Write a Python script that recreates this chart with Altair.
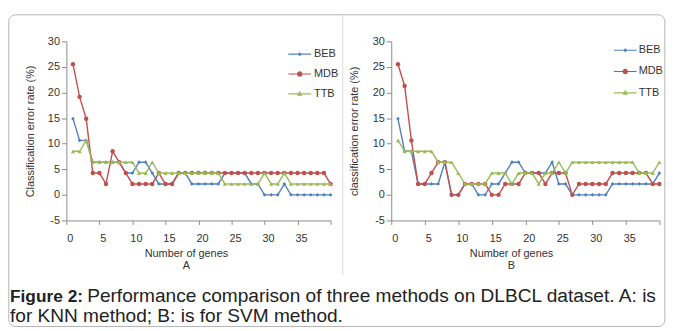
import altair as alt
import pandas as pd

genes = list(range(1, 41))
series_names = ["BEB", "MDB", "TTB"]
series_colors = ["#4F81BD", "#C0504D", "#9BBB59"]
marker_shapes = ["diamond", "circle", "triangle-up"]
marker_sizes = [14, 20, 18]
x_ticks = [0, 5, 10, 15, 20, 25, 30, 35, 40]
y_ticks = [-5, 0, 5, 10, 15, 20, 25, 30]

# Panel A (KNN)
knn_beb = [14.89, 10.64, 10.64, 6.38, 6.38, 6.38, 6.38, 6.38, 4.26, 4.26,
           6.38, 6.38, 4.26, 2.13, 2.13, 2.13, 4.26, 4.26, 2.13, 2.13,
           2.13, 2.13, 2.13, 4.26, 4.26, 4.26, 4.26, 2.13, 2.13, 0,
           0, 0, 2.13, 0, 0, 0, 0, 0, 0, 0]
knn_mdb = [25.53, 19.15, 14.89, 4.26, 4.26, 2.13, 8.51, 6.38, 4.26, 2.13,
           2.13, 2.13, 2.13, 4.26, 2.13, 2.13, 4.26, 4.26, 4.26, 4.26,
           4.26, 4.26, 4.26, 4.26, 4.26, 4.26, 4.26, 4.26, 4.26, 4.26,
           4.26, 4.26, 4.26, 4.26, 4.26, 4.26, 4.26, 4.26, 4.26, 2.13]
knn_ttb = [8.51, 8.51, 10.64, 6.38, 6.38, 6.38, 6.38, 6.38, 6.38, 6.38,
           4.26, 4.26, 6.38, 4.26, 4.26, 4.26, 4.26, 4.26, 4.26, 4.26,
           4.26, 4.26, 4.26, 2.13, 2.13, 2.13, 2.13, 2.13, 2.13, 4.26,
           2.13, 2.13, 4.26, 2.13, 2.13, 2.13, 2.13, 2.13, 2.13, 2.13]

# Panel B (SVM)
svm_beb = [14.89, 8.51, 8.51, 2.13, 2.13, 2.13, 2.13, 6.38, 0, 0,
           2.13, 2.13, 0, 0, 2.13, 2.13, 4.26, 6.38, 6.38, 4.26,
           4.26, 4.26, 4.26, 6.38, 2.13, 2.13, 0, 0, 0, 0,
           0, 0, 2.13, 2.13, 2.13, 2.13, 2.13, 2.13, 2.13, 4.26]
svm_mdb = [25.53, 21.28, 10.64, 2.13, 2.13, 4.26, 6.38, 6.38, 0, 0,
           2.13, 2.13, 2.13, 2.13, 0, 0, 2.13, 2.13, 2.13, 4.26,
           4.26, 4.26, 2.13, 4.26, 4.26, 4.26, 0, 2.13, 2.13, 2.13,
           2.13, 2.13, 4.26, 4.26, 4.26, 4.26, 4.26, 4.26, 2.13, 2.13]
svm_ttb = [10.64, 8.51, 8.51, 8.51, 8.51, 8.51, 6.38, 6.38, 6.38, 4.26,
           2.13, 2.13, 2.13, 2.13, 4.26, 4.26, 4.26, 2.13, 4.26, 4.26,
           4.26, 2.13, 4.26, 4.26, 6.38, 4.26, 6.38, 6.38, 6.38, 6.38,
           6.38, 6.38, 6.38, 6.38, 6.38, 6.38, 4.26, 4.26, 4.26, 6.38]

caption_bold = "Figure 2:"
caption_line1 = "Performance comparison of three methods on DLBCL dataset. A: is"
caption_line2 = "for KNN method; B: is for SVM method."

FONT = "Liberation Sans"
TEXT = "#333333"
AXIS = "#8c8c8c"

legend_paths = [
    "M-2.3,-0.12H2.3V0.12H-2.3Z M0,-0.42L0.42,0L0,0.42L-0.42,0Z",
    "M-2.3,-0.12H2.3V0.12H-2.3Z M-0.55,0A0.55,0.55 0 1,1 0.55,0A0.55,0.55 0 1,1 -0.55,0Z",
    "M-2.3,-0.12H2.3V0.12H-2.3Z M0,-0.6L0.55,0.4L-0.55,0.4Z",
]

deco_df = pd.DataFrame({"k": [0]})


def make_panel(beb, mdb, ttb, ytitle, xtitle, width, title_x,
               leg_x, leg_y, leg_off, leg_pad, extras):
    df = pd.DataFrame({
        "gene": genes * 3,
        "rate": beb + mdb + ttb,
        "series": [s for s in series_names for _ in genes],
    })
    x = alt.X(
        "gene:Q",
        scale=alt.Scale(domain=[0, 40], nice=False, zero=False),
        axis=alt.Axis(
            values=x_ticks,
            labelExpr="datum.value == 40 ? '' : datum.label",
            title=xtitle, titleX=title_x, titlePadding=2,
            titleLineHeight=12.5, minExtent=25, maxExtent=25,
            tickSize=4, labelPadding=8, labelOffset=3.5,
            labelFlush=False, labelOverlap=False, grid=False,
        ),
    )
    y = alt.Y(
        "rate:Q",
        scale=alt.Scale(domain=[-5, 30], nice=False, zero=False),
        axis=alt.Axis(
            values=y_ticks, title=ytitle, titlePadding=12.7,
            labelExpr="datum.value < 0 ? '-' + abs(datum.value) : datum.label",
            minExtent=19, maxExtent=19, tickSize=5, labelPadding=2,
            grid=False,
        ),
    )
    base = alt.Chart(df)
    leg = alt.Legend(
        orient="none", legendX=leg_x, legendY=leg_y, title=None, padding=0,
        symbolSize=100, labelOffset=leg_off, rowPadding=leg_pad,
        labelFontSize=11, labelFont=FONT, labelColor=TEXT, symbolOpacity=1,
    )
    # legend-only layer (draws no data), gives line+marker legend symbols
    legend_layer = base.transform_filter("datum.gene < 0").mark_point(
        filled=True, size=100, opacity=1
    ).encode(
        x=x, y=y,
        color=alt.Color("series:N",
                        scale=alt.Scale(domain=series_names, range=series_colors),
                        legend=leg),
        shape=alt.Shape("series:N",
                        scale=alt.Scale(domain=series_names, range=legend_paths),
                        legend=leg),
    )
    layers = [legend_layer]
    for name, col, shp, sz in zip(series_names, series_colors, marker_shapes, marker_sizes):
        sub = base.transform_filter(alt.datum.series == name)
        layers.append(sub.mark_line(strokeWidth=1.4, color=col).encode(x=x, y=y))
        layers.append(sub.mark_point(shape=shp, filled=True, size=sz, opacity=1, color=col)
                      .encode(x=x, y=y))
    return alt.layer(*extras, *layers).properties(width=width, height=181)


# decorative frame, separator and caption (pixel positions relative to panel A plot origin)
frame = alt.Chart(deco_df).mark_rect(
    fillOpacity=0, stroke="#b4b4b4", strokeWidth=1, cornerRadius=7
).encode(x=alt.value(-58.2), x2=alt.value(604.8), y=alt.value(-26.8), y2=alt.value(288.2))
separator = alt.Chart(deco_df).mark_rule(stroke="#dcdcdc", strokeWidth=1).encode(
    x=alt.value(279.3), y=alt.value(-26.8), y2=alt.value(236))
cap_b = alt.Chart(deco_df).mark_text(
    text=caption_bold, align="left", baseline="alphabetic", font=FONT,
    fontSize=17.5, fontWeight="bold", color="#222222"
).encode(x=alt.value(-57.0), y=alt.value(263.7))
cap_1 = alt.Chart(deco_df).mark_text(
    text=caption_line1, align="left", baseline="alphabetic", font=FONT,
    fontSize=19.3, color="#222222"
).encode(x=alt.value(21.0), y=alt.value(263.7))
cap_2 = alt.Chart(deco_df).mark_text(
    text=caption_line2, align="left", baseline="alphabetic", font=FONT,
    fontSize=19.3, color="#222222"
).encode(x=alt.value(-57.0), y=alt.value(283.7))

left = make_panel(knn_beb, knn_mdb, knn_ttb, "Classification error rate (%)",
                  ["Number of genes", "A"], 267, 120.8,
                  229.8, 7.0, 8.5, 8, [frame, separator, cap_b, cap_1, cap_2])
right = make_panel(svm_beb, svm_mdb, svm_ttb, "classification error rate (%)",
                   ["Number of genes", "B"], 271, 121,
                   230.5, 3.0, 7.5, 9.5, [])

chart = alt.hconcat(left, right, spacing=61.3, bounds="flush").resolve_scale(
    color="independent", shape="independent"
).resolve_legend(
    color="independent", shape="independent"
).properties(
    padding={"left": 0, "top": 4, "right": 4, "bottom": 0}
).configure_view(
    strokeOpacity=0
).configure_axis(
    domainColor=AXIS, tickColor=AXIS, labelColor=TEXT, titleColor=TEXT,
    labelFont=FONT, titleFont=FONT, labelFontSize=11, titleFontSize=11,
    titleFontWeight="normal",
)

chart.save("out.html", embed_options={"renderer": "svg", "actions": False})
